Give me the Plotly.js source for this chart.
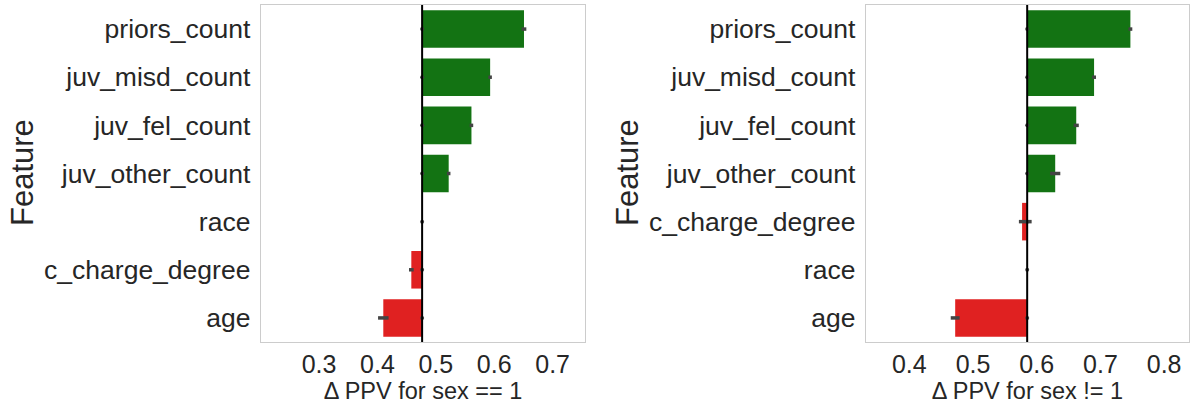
<!DOCTYPE html>
<html>
<head>
<meta charset="utf-8">
<script src="https://cdn.plot.ly/plotly-3.0.1.min.js"></script>
<style>html,body{margin:0;padding:0;background:#fff;}#chart{width:1190px;height:409px;}</style>
</head>
<body>
<div id="chart"></div>
<script>
// Left panel: sex == 1
const featuresLeft = ["priors_count","juv_misd_count","juv_fel_count","juv_other_count","race","c_charge_degree","age"];
const valuesLeft   = [0.651, 0.593, 0.561, 0.522, 0.4765, 0.458, 0.410];
const errorsLeft   = [0.004, 0.003, 0.003, 0.003, 0.0005, 0.004, 0.009];
const baselineLeft = 0.4765;

// Right panel: sex != 1
const featuresRight = ["priors_count","juv_misd_count","juv_fel_count","juv_other_count","c_charge_degree","race","age"];
const valuesRight   = [0.747, 0.690, 0.662, 0.629, 0.577, 0.585, 0.472];
const errorsRight   = [0.003, 0.003, 0.004, 0.008, 0.010, 0.0005, 0.007];
const errCenterRight= [0.747, 0.690, 0.662, 0.629, 0.582, 0.585, 0.472];
const baselineRight = 0.585;

const xTitleLeft = "Δ PPV for sex == 1";
const xTitleRight = "Δ PPV for sex != 1";
const yTitle = "Feature";

const GREEN = "#137313", RED = "#e02121";
const FONT = "Liberation Sans, Arial, sans-serif";

function panel(features, values, errs, errCenters, base, xa, ya) {
  const colors = values.map(v => v >= base ? GREEN : RED);
  return [
    {type:"bar", orientation:"h", y:features, x:values.map(v => v - base), base:base,
     marker:{color:colors, line:{width:0}}, width:0.78, xaxis:xa, yaxis:ya, hoverinfo:"skip", showlegend:false},
    {type:"scatter", mode:"markers", y:features, x:errCenters,
     marker:{size:1, opacity:0}, error_x:{type:"data", array:errs, visible:true, color:"#444444", thickness:3.5, width:0},
     xaxis:xa, yaxis:ya, hoverinfo:"skip", showlegend:false},
    {type:"scatter", mode:"markers", y:features, x:features.map(() => base),
     marker:{size:4, color:"#444444"}, xaxis:xa, yaxis:ya, hoverinfo:"skip", showlegend:false}
  ];
}

const data = [
  ...panel(featuresLeft, valuesLeft, errorsLeft, valuesLeft, baselineLeft, "x", "y"),
  ...panel(featuresRight, valuesRight, errorsRight, errCenterRight, baselineRight, "x2", "y2")
];

const W = 1190, H = 409;
const yDom = [(H-342)/H, (H-5)/H];
const axBase = {showline:true, mirror:true, linecolor:"#cccccc", linewidth:1.3, showgrid:false, zeroline:false,
  ticks:"", tickfont:{family:FONT, size:25, color:"#262626"}, automargin:false};
const yFont = {family:FONT, size:26.5, color:"#262626"};
const xTitleFont = {family:FONT, size:23.5, color:"#262626"};

const layout = {
  width:W, height:H, margin:{l:0,r:0,t:0,b:0}, paper_bgcolor:"#fff", plot_bgcolor:"#fff",
  font:{family:FONT, color:"#262626"}, bargap:0.2,
  xaxis:Object.assign({}, axBase, {domain:[261/W, 585/W], range:[0.2005, 0.7555], tickvals:[0.3,0.4,0.5,0.6,0.7], ticktext:["0.3","0.4","0.5","0.6","0.7"], ticklabelstandoff:0,
    title:{text:xTitleLeft, font:xTitleFont, standoff:2}}),
  yaxis:Object.assign({}, axBase, {domain:yDom, anchor:"x", type:"category", categoryorder:"array", categoryarray:featuresLeft, range:[6.5,-0.5], ticklabelstandoff:4, tickfont:yFont}),
  xaxis2:Object.assign({}, axBase, {domain:[866/W, 1189/W], range:[0.332, 0.839], anchor:"y2", tickvals:[0.4,0.5,0.6,0.7,0.8], ticktext:["0.4","0.5","0.6","0.7","0.8"], ticklabelstandoff:0,
    title:{text:xTitleRight, font:xTitleFont, standoff:2}}),
  yaxis2:Object.assign({}, axBase, {domain:yDom, anchor:"x2", type:"category", categoryorder:"array", categoryarray:featuresRight, range:[6.5,-0.5], ticklabelstandoff:4, tickfont:yFont}),
  shapes:[
    {type:"line", xref:"x", yref:"paper", x0:baselineLeft, x1:baselineLeft, y0:yDom[0], y1:yDom[1], line:{color:"#000", width:2}},
    {type:"line", xref:"x2", yref:"paper", x0:baselineRight, x1:baselineRight, y0:yDom[0], y1:yDom[1], line:{color:"#000", width:2}}
  ],
  annotations:[
    {text:yTitle, xref:"paper", yref:"paper", x:22/W, y:(H-173)/H, xanchor:"center", yanchor:"middle", showarrow:false, textangle:-90, font:{family:FONT, size:31, color:"#262626"}},
    {text:yTitle, xref:"paper", yref:"paper", x:627/W, y:(H-173)/H, xanchor:"center", yanchor:"middle", showarrow:false, textangle:-90, font:{family:FONT, size:31, color:"#262626"}}
  ]
};

Plotly.newPlot("chart", data, layout, {displayModeBar:false, staticPlot:true});
</script>
</body>
</html>
